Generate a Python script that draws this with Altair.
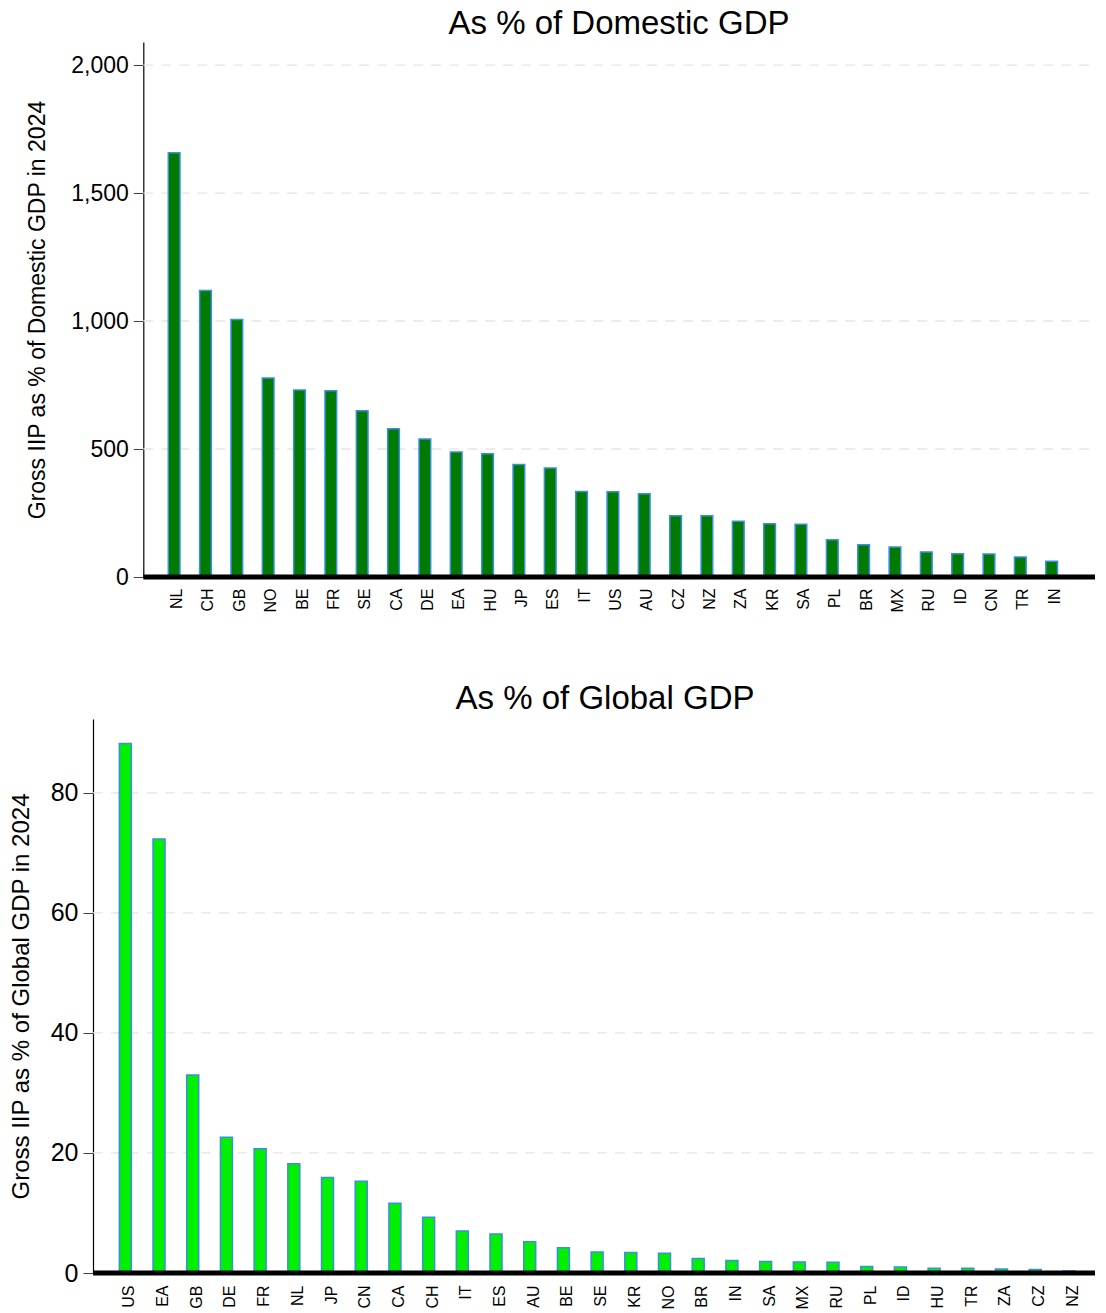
import altair as alt
import pandas as pd

FONT = "Liberation Sans"

# ---- data: Gross IIP as % of domestic GDP (2024) ----
top_countries = ["NL", "CH", "GB", "NO", "BE", "FR", "SE", "CA", "DE", "EA", "HU", "JP", "ES", "IT",
                 "US", "AU", "CZ", "NZ", "ZA", "KR", "SA", "PL", "BR", "MX", "RU", "ID", "CN", "TR", "IN"]
top_values = [1657, 1119, 1006, 777, 731, 728, 649, 579, 539, 488, 481, 439, 426, 334,
              333, 325, 239, 239, 218, 208, 206, 146, 126, 117, 98, 91, 90, 78, 62]
top_ticks = [0, 500, 1000, 1500, 2000]

# ---- data: Gross IIP as % of global GDP (2024) ----
bottom_countries = ["US", "EA", "GB", "DE", "FR", "NL", "JP", "CN", "CA", "CH", "IT", "ES", "AU", "BE",
                    "SE", "KR", "NO", "BR", "IN", "SA", "MX", "RU", "PL", "ID", "HU", "TR", "ZA", "CZ", "NZ"]
bottom_values = [88.2, 72.3, 33.0, 22.6, 20.7, 18.2, 15.9, 15.3, 11.6, 9.3, 7.0, 6.5, 5.2, 4.2,
                 3.5, 3.4, 3.3, 2.4, 2.1, 1.9, 1.85, 1.8, 1.1, 1.0, 0.8, 0.8, 0.65, 0.6, 0.35]
bottom_ticks = [0, 20, 40, 60, 80]

PLOT_W = 1002


def panel(cats, vals, fill, title, ytitle, ymax, yticks, fmt, height,
          pi, po, align, label_pad, axis_shift, title_x, title_offset, title_dx, spacer_px,
          tick_fs, ytitle_fs, label_offset):
    df = pd.DataFrame({"country": cats, "value": vals})
    grid_df = pd.DataFrame({"value": [t for t in yticks if t > 0]})
    xenc = alt.X(
        "country:N", sort=cats, title=None,
        scale=alt.Scale(range=[axis_shift, PLOT_W], paddingInner=pi, paddingOuter=po, align=align),
        axis=alt.Axis(labelAngle=-90, labelFontSize=16, labelFont=FONT, labelColor="black",
                      domain=False, ticks=False, tickSize=0, labelPadding=label_pad,
                      labelOffset=label_offset, labelBaseline="middle", labelAlign="right"),
    )
    yenc = alt.Y(
        "value:Q", title=ytitle,
        scale=alt.Scale(domain=[0, ymax], nice=False, zero=True),
        axis=alt.Axis(values=yticks, format=fmt, labelFontSize=tick_fs, labelFont=FONT,
                      labelColor="black", labelPadding=5, tickSize=10, tickColor="#444444",
                      tickWidth=1, domainColor="black", domainWidth=1.2, grid=False,
                      offset=-axis_shift,
                      titleFontSize=ytitle_fs, titleFont=FONT, titleFontWeight="normal",
                      titleColor="black", titleX=title_x, titleY=height / 2,
                      titleAngle=-90, titleBaseline="alphabetic", titleAlign="center"),
    )
    grid = alt.Chart(grid_df).mark_rule(color="#e6e6e6", strokeWidth=1.3, strokeDash=[10, 8]).encode(
        y="value:Q", x=alt.value(axis_shift), x2=alt.value(PLOT_W))
    bars = alt.Chart(df).mark_bar(fill=fill, stroke="#3a8fe0", strokeWidth=1.5).encode(x=xenc, y=yenc)
    base = alt.Chart(pd.DataFrame({"value": [0]})).mark_rule(
        color="black", strokeWidth=5).encode(y="value:Q", x=alt.value(axis_shift), x2=alt.value(PLOT_W))
    layers = [grid, bars, base]
    if spacer_px is not None:
        layers.append(alt.Chart(pd.DataFrame({"a": [0]})).mark_rule(color="white", strokeWidth=1).encode(
            x=alt.value(spacer_px), y=alt.value(0), y2=alt.value(4)))
    return alt.layer(*layers).properties(
        width=PLOT_W, height=height,
        title=alt.TitleParams(title, fontSize=33, font=FONT, fontWeight="normal", color="black",
                              anchor="middle", frame="group", offset=title_offset, dx=title_dx),
    )


# plot origin (both panels) sits at page x ~92.7; top panel's y axis is shifted to x ~143
top = panel(top_countries, top_values, "#007a00", "As % of Domestic GDP",
            "Gross IIP as % of Domestic GDP in 2024", 2090, top_ticks, ",.0f", 535,
            0.627, 0.997, 0.4, 11, 50.3, -99, 1, 25, None, 23, 23, 3)

bottom = panel(bottom_countries, bottom_values, "#00f000", "As % of Global GDP",
               "Gross IIP as % of Global GDP in 2024", 92.3, bottom_ticks, "d", 554,
               0.644, 0.689, 0.567, 12, 0, -65, 3, 11, -84.2, 25, 24, 4)

chart = alt.vconcat(top, bottom, spacing=70).properties(
    padding={"left": 0, "top": 0, "right": 0, "bottom": 0}
).configure(font=FONT).configure_view(stroke=None)

chart.save("out.html", embed_options={"renderer": "svg", "actions": False})
